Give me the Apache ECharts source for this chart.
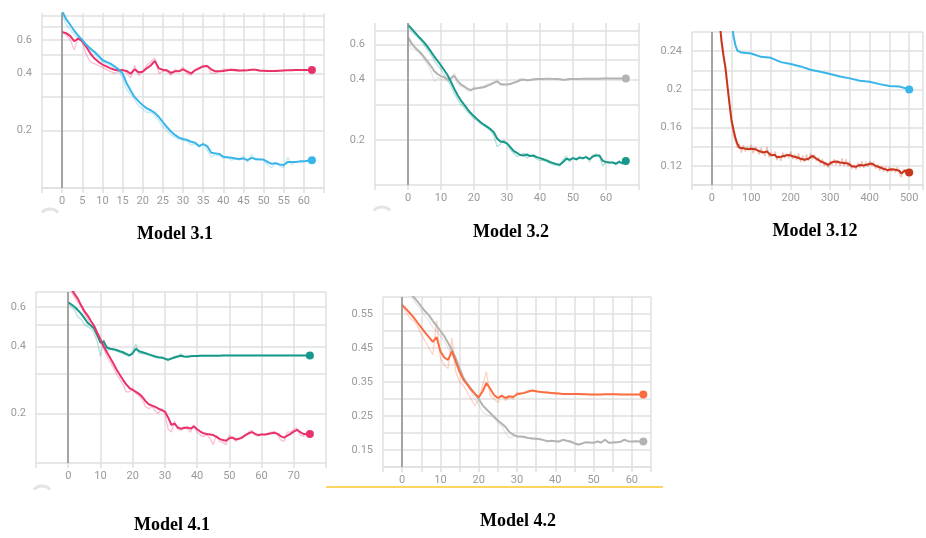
<!DOCTYPE html>
<html><head><meta charset="utf-8">
<script src="https://cdn.jsdelivr.net/npm/echarts@6/dist/echarts.min.js"></script>
<style>html,body{margin:0;padding:0;background:#fff}#c{width:926px;height:538px}</style>
</head><body><div id="c"></div>
<script>
// ---------- Model 3.1 (steps 0..62) ----------
const m31PinkSmooth = [0.66,0.65,0.63,0.59,0.61,0.59,0.55,0.51,0.48,0.46,0.445,0.435,0.425,0.418,0.415,0.416,0.412,0.398,0.42,0.405,0.408,0.425,0.44,0.465,0.425,0.418,0.415,0.402,0.41,0.41,0.42,0.41,0.40,0.415,0.425,0.435,0.437,0.42,0.41,0.41,0.412,0.415,0.418,0.416,0.414,0.414,0.415,0.418,0.418,0.414,0.413,0.412,0.411,0.412,0.413,0.414,0.415,0.415,0.416,0.416,0.417,0.417,0.417];
const m31PinkRaw = [0.66,0.64,0.60,0.53,0.62,0.58,0.50,0.46,0.45,0.44,0.43,0.42,0.41,0.40,0.41,0.42,0.40,0.38,0.44,0.39,0.41,0.44,0.46,0.48,0.40,0.41,0.41,0.39,0.42,0.41,0.43,0.40,0.39,0.42,0.43,0.44,0.44,0.40,0.40,0.41,0.42,0.42,0.42,0.41,0.41,0.42,0.415,0.42,0.42,0.41,0.41,0.41,0.41,0.415,0.415,0.415,0.415,0.415,0.417,0.417,0.417,0.417,0.417];
const m31BlueSmooth = [0.85,0.77,0.72,0.67,0.63,0.60,0.565,0.54,0.52,0.495,0.47,0.46,0.45,0.435,0.42,0.40,0.355,0.325,0.30,0.285,0.272,0.262,0.256,0.248,0.236,0.222,0.209,0.198,0.19,0.184,0.181,0.179,0.175,0.173,0.166,0.17,0.166,0.153,0.152,0.151,0.146,0.145,0.144,0.143,0.142,0.143,0.14,0.144,0.142,0.141,0.141,0.137,0.134,0.135,0.133,0.132,0.137,0.137,0.137,0.138,0.138,0.139,0.140];
const m31BlueRaw = [0.82,0.72,0.68,0.64,0.61,0.59,0.55,0.53,0.51,0.48,0.46,0.45,0.44,0.42,0.41,0.38,0.33,0.31,0.29,0.27,0.26,0.25,0.25,0.24,0.225,0.21,0.2,0.19,0.185,0.18,0.178,0.176,0.168,0.17,0.163,0.172,0.158,0.145,0.15,0.148,0.143,0.145,0.14,0.142,0.14,0.147,0.136,0.15,0.14,0.142,0.14,0.132,0.128,0.136,0.13,0.128,0.145,0.132,0.138,0.136,0.138,0.14,0.14];

// ---------- Model 3.2 (steps 0..66) ----------
const m32TealSmooth = [0.75,0.72,0.69,0.66,0.635,0.61,0.58,0.55,0.52,0.495,0.47,0.445,0.42,0.39,0.36,0.335,0.315,0.30,0.285,0.272,0.262,0.253,0.245,0.238,0.232,0.226,0.218,0.203,0.196,0.195,0.192,0.184,0.176,0.172,0.168,0.167,0.169,0.166,0.167,0.164,0.162,0.16,0.158,0.155,0.153,0.151,0.15,0.155,0.161,0.159,0.162,0.16,0.163,0.162,0.164,0.16,0.165,0.167,0.167,0.157,0.155,0.154,0.154,0.152,0.155,0.153,0.157];
const m32TealRaw = [0.75,0.70,0.67,0.65,0.62,0.59,0.56,0.53,0.50,0.47,0.45,0.42,0.40,0.37,0.34,0.32,0.30,0.29,0.275,0.265,0.255,0.25,0.24,0.235,0.23,0.222,0.21,0.185,0.19,0.2,0.19,0.178,0.172,0.165,0.168,0.172,0.162,0.168,0.165,0.16,0.158,0.158,0.155,0.153,0.15,0.15,0.148,0.16,0.166,0.155,0.164,0.158,0.166,0.16,0.166,0.155,0.168,0.17,0.165,0.148,0.155,0.153,0.155,0.15,0.158,0.15,0.158];
const m32GraySmooth = [0.65,0.61,0.58,0.56,0.54,0.515,0.49,0.465,0.44,0.425,0.416,0.41,0.40,0.405,0.418,0.395,0.378,0.37,0.36,0.354,0.36,0.362,0.364,0.366,0.372,0.378,0.385,0.392,0.38,0.378,0.378,0.38,0.385,0.39,0.397,0.40,0.397,0.398,0.40,0.402,0.403,0.403,0.404,0.404,0.403,0.403,0.401,0.399,0.40,0.402,0.403,0.403,0.403,0.404,0.404,0.404,0.404,0.404,0.404,0.405,0.405,0.405,0.405,0.405,0.405,0.405,0.405];
const m32GrayRaw = [0.64,0.57,0.56,0.55,0.53,0.50,0.47,0.44,0.39,0.41,0.40,0.40,0.39,0.41,0.43,0.38,0.37,0.365,0.35,0.35,0.37,0.36,0.37,0.37,0.38,0.38,0.39,0.40,0.375,0.375,0.38,0.38,0.39,0.39,0.405,0.40,0.395,0.40,0.405,0.404,0.404,0.404,0.403,0.403,0.402,0.403,0.40,0.398,0.40,0.402,0.403,0.403,0.404,0.404,0.404,0.404,0.404,0.404,0.404,0.405,0.405,0.405,0.405,0.405,0.405,0.405,0.405];

// ---------- Model 3.12 ----------
const m312RedSteps = [0,5,10,15,20,25,30,35,40,45,50,55,60,65,70,75,80,85,90,95,100,105,110,115,120,125,130,135,140,145,150,155,160,165,170,175,180,185,190,195,200,205,210,215,220,225,230,235,240,245,250,255,260,265,270,275,280,285,290,295,300,305,310,315,320,325,330,335,340,345,350,355,360,365,370,375,380,385,390,395,400,405,410,415,420,425,430,435,440,445,450,455,460,465,470,475,480,485,490,495,500];
const m312RedSmooth = [0.52,0.44,0.37,0.31,0.27,0.25,0.235,0.222,0.203,0.185,0.168,0.158,0.149,0.143,0.139,0.137,0.1385,0.137,0.1375,0.139,0.138,0.1365,0.1375,0.136,0.1355,0.1365,0.134,0.1335,0.135,0.133,0.131,0.133,0.1315,0.129,0.128,0.1295,0.131,0.1305,0.129,0.1315,0.132,0.13,0.1285,0.129,0.1295,0.1275,0.128,0.1265,0.1285,0.1275,0.1295,0.1305,0.129,0.1275,0.1265,0.125,0.1245,0.123,0.1215,0.121,0.1225,0.124,0.1235,0.1245,0.1225,0.1235,0.1245,0.123,0.1245,0.1225,0.1215,0.1195,0.1185,0.119,0.1205,0.121,0.122,0.1205,0.121,0.1215,0.122,0.1225,0.121,0.12,0.119,0.1185,0.1175,0.117,0.1165,0.1155,0.116,0.1165,0.1155,0.116,0.1165,0.115,0.112,0.1135,0.1155,0.1125,0.113];
const m312RedRaw = [0.53,0.45,0.37,0.30,0.27,0.245,0.232,0.218,0.2,0.182,0.165,0.152,0.146,0.139,0.143,0.134,0.142,0.135,0.14,0.136,0.142,0.133,0.14,0.138,0.132,0.139,0.137,0.13,0.14,0.129,0.134,0.13,0.135,0.126,0.131,0.125,0.134,0.128,0.133,0.128,0.135,0.127,0.132,0.126,0.133,0.124,0.131,0.124,0.132,0.125,0.133,0.127,0.132,0.125,0.129,0.122,0.127,0.12,0.124,0.118,0.125,0.121,0.127,0.121,0.126,0.12,0.128,0.12,0.127,0.119,0.124,0.117,0.121,0.116,0.123,0.118,0.125,0.118,0.124,0.119,0.125,0.12,0.124,0.117,0.122,0.115,0.12,0.114,0.119,0.113,0.119,0.114,0.118,0.113,0.119,0.112,0.108,0.116,0.112,0.115,0.112];
const m312BlueSteps = [0,20,40,50,55,60,65,75,100,125,150,175,200,225,250,275,300,325,350,375,400,425,450,475,500];
const m312BlueSmooth = [0.60,0.42,0.31,0.272,0.256,0.246,0.2405,0.2385,0.2375,0.234,0.233,0.2285,0.2265,0.224,0.2205,0.2185,0.216,0.2135,0.2115,0.209,0.208,0.2055,0.2035,0.203,0.200];

// ---------- Model 4.1 (steps 0..75) ----------
const m41TealSmooth = [0.63,0.615,0.60,0.58,0.56,0.535,0.51,0.495,0.48,0.45,0.415,0.42,0.395,0.39,0.388,0.385,0.38,0.376,0.37,0.364,0.372,0.39,0.38,0.376,0.372,0.368,0.364,0.36,0.357,0.356,0.352,0.348,0.352,0.356,0.36,0.363,0.36,0.359,0.361,0.362,0.362,0.363,0.363,0.363,0.363,0.363,0.363,0.363,0.364,0.364,0.364,0.364,0.364,0.364,0.364,0.364,0.364,0.364,0.364,0.364,0.364,0.364,0.364,0.364,0.364,0.364,0.364,0.364,0.364,0.364,0.364,0.364,0.364,0.364,0.364,0.364];
const m41TealRaw = [0.62,0.60,0.58,0.54,0.53,0.50,0.49,0.48,0.46,0.42,0.36,0.43,0.38,0.39,0.385,0.38,0.375,0.37,0.365,0.36,0.38,0.41,0.37,0.372,0.37,0.365,0.36,0.356,0.355,0.355,0.35,0.345,0.355,0.36,0.362,0.37,0.358,0.36,0.362,0.362,0.363,0.364,0.364,0.364,0.364,0.364,0.364,0.364,0.364,0.364,0.364,0.364,0.364,0.364,0.364,0.364,0.364,0.364,0.364,0.364,0.364,0.364,0.364,0.364,0.364,0.364,0.364,0.364,0.364,0.364,0.364,0.364,0.364,0.364,0.364,0.364];
const m41PinkSmooth = [0.76,0.72,0.685,0.652,0.61,0.575,0.55,0.52,0.494,0.46,0.43,0.40,0.376,0.355,0.335,0.315,0.298,0.283,0.27,0.26,0.255,0.25,0.245,0.237,0.227,0.22,0.217,0.214,0.21,0.207,0.204,0.192,0.178,0.18,0.173,0.171,0.172,0.173,0.171,0.175,0.17,0.166,0.163,0.162,0.161,0.16,0.157,0.154,0.152,0.151,0.155,0.156,0.153,0.154,0.156,0.16,0.163,0.165,0.162,0.16,0.161,0.161,0.162,0.163,0.164,0.162,0.158,0.156,0.159,0.162,0.166,0.169,0.165,0.162,0.162,0.162];
const m41PinkRaw = [0.74,0.70,0.66,0.63,0.60,0.56,0.53,0.50,0.48,0.44,0.42,0.39,0.36,0.34,0.32,0.30,0.285,0.27,0.25,0.25,0.26,0.245,0.24,0.23,0.215,0.21,0.215,0.205,0.2,0.21,0.2,0.17,0.165,0.185,0.17,0.168,0.175,0.17,0.165,0.178,0.165,0.16,0.158,0.16,0.155,0.145,0.16,0.15,0.148,0.145,0.16,0.155,0.15,0.155,0.158,0.16,0.165,0.168,0.16,0.158,0.162,0.16,0.163,0.165,0.166,0.16,0.152,0.15,0.165,0.165,0.17,0.172,0.16,0.158,0.163,0.162];

// ---------- Model 4.2 (steps 0..63) ----------
const m42OrangeSmooth = [0.577,0.565,0.553,0.54,0.525,0.51,0.495,0.482,0.468,0.482,0.44,0.422,0.415,0.44,0.41,0.38,0.357,0.343,0.328,0.315,0.305,0.322,0.347,0.33,0.312,0.303,0.31,0.303,0.308,0.306,0.314,0.316,0.318,0.322,0.325,0.323,0.321,0.32,0.319,0.318,0.317,0.316,0.315,0.315,0.315,0.315,0.315,0.314,0.314,0.313,0.313,0.313,0.313,0.314,0.314,0.314,0.314,0.313,0.313,0.313,0.313,0.313,0.313,0.313];
const m42OrangeRaw = [0.575,0.555,0.54,0.53,0.515,0.49,0.47,0.45,0.43,0.53,0.42,0.40,0.39,0.48,0.38,0.35,0.34,0.32,0.30,0.28,0.30,0.34,0.38,0.31,0.3,0.29,0.31,0.295,0.305,0.3,0.32,0.315,0.32,0.323,0.326,0.322,0.32,0.319,0.318,0.317,0.316,0.315,0.315,0.315,0.315,0.315,0.315,0.314,0.314,0.313,0.313,0.313,0.313,0.314,0.314,0.314,0.314,0.313,0.313,0.313,0.313,0.313,0.313,0.313];
const m42GraySmooth = [0.66,0.64,0.62,0.60,0.587,0.572,0.558,0.546,0.53,0.515,0.5,0.485,0.465,0.445,0.42,0.39,0.362,0.345,0.33,0.315,0.3,0.282,0.27,0.259,0.248,0.237,0.228,0.218,0.203,0.195,0.19,0.19,0.188,0.185,0.184,0.183,0.182,0.179,0.176,0.177,0.176,0.175,0.18,0.177,0.175,0.17,0.166,0.169,0.173,0.172,0.171,0.175,0.172,0.18,0.171,0.172,0.173,0.174,0.18,0.176,0.175,0.176,0.175,0.175];
const m42GrayRaw = [0.66,0.63,0.61,0.59,0.575,0.56,0.545,0.53,0.51,0.50,0.485,0.47,0.45,0.43,0.41,0.38,0.355,0.34,0.32,0.30,0.285,0.26,0.255,0.25,0.245,0.23,0.22,0.2,0.185,0.19,0.19,0.188,0.186,0.184,0.183,0.182,0.18,0.178,0.175,0.176,0.175,0.174,0.18,0.176,0.172,0.168,0.164,0.168,0.172,0.171,0.17,0.176,0.17,0.182,0.17,0.171,0.172,0.173,0.182,0.175,0.174,0.176,0.175,0.175];

// ---------- tick values ----------
const logLabelTicks = [0.2, 0.4, 0.6];
const logGridTicks = [0.1, 0.2, 0.3, 0.4, 0.5, 0.6, 0.7, 0.8];
const captions = ['Model 3.1', 'Model 3.2', 'Model 3.12', 'Model 4.1', 'Model 4.2'];

const PINK = '#e9326a', BLUE = '#38b6ea', TEAL = '#16998a', GRAY = '#b3b3b3', RED = '#c9351a', ORANGE = '#fb6d40';
const GRID_C = '#e0e0e0', LABEL_C = '#9a9a9a';

function pairs(vals, steps) { return vals.map((v, i) => [steps ? steps[i] : i, v]); }

const grids = [
  { left: 42, top: 13, width: 282, height: 175 },
  { left: 375, top: 23, width: 264, height: 162 },
  { left: 692, top: 32, width: 236, height: 153 },
  { left: 36, top: 292, width: 290, height: 171 },
  { left: 383, top: 297, width: 268, height: 170 }
];

function xAx(gi, min, max, interval, labelFn) {
  return {
    type: 'value', gridIndex: gi, min, max, interval,
    axisLine: { show: true, lineStyle: { color: GRID_C, width: 1.5 } },
    axisTick: { show: true, length: 5, lineStyle: { color: GRID_C, width: 1.5 } },
    splitLine: { show: true, lineStyle: { color: GRID_C, width: 1.5 } },
    axisLabel: { color: LABEL_C, fontSize: 11, fontFamily: 'Roboto', margin: 8, formatter: labelFn }
  };
}
function yLog(gi, min, max) {
  return {
    type: 'log', logBase: 10, gridIndex: gi, min, max,
    axisLine: { show: false },
    axisTick: { show: false, customValues: logGridTicks.filter(v => v >= min && v <= max) },
    splitLine: { show: true, lineStyle: { color: GRID_C, width: 1.5 } },
    axisLabel: { color: LABEL_C, fontSize: 11, fontFamily: 'Roboto', margin: 10,
      customValues: logLabelTicks, formatter: v => String(+(+v).toFixed(2)) }
  };
}
function yLin(gi, min, max, interval, labelFn) {
  return {
    type: 'value', gridIndex: gi, min, max, interval,
    axisLine: { show: false }, axisTick: { show: false },
    splitLine: { show: true, lineStyle: { color: GRID_C, width: 1.5 } },
    axisLabel: { color: LABEL_C, fontSize: 11, fontFamily: 'Roboto', margin: 10, formatter: labelFn }
  };
}

const xAxes = [
  xAx(0, -5, 65, 5, v => (v >= 0 && v <= 60) ? String(v) : ''),
  xAx(1, -10, 70, 10, v => (v >= 0 && v <= 60) ? String(v) : ''),
  xAx(2, -50, 535, 50, v => (v >= 0 && v <= 500 && Math.round(v) % 100 === 0) ? String(Math.round(v)) : ''),
  xAx(3, -10, 80, 10, v => (v >= 0 && v <= 70) ? String(v) : ''),
  xAx(4, -5, 65, 5, v => (v >= 0 && v <= 60 && Math.round(v) % 10 === 0) ? String(v) : '')
];
const yAxes = [
  yLog(0, 0.1, 0.83),
  yLog(1, 0.119, 0.766),
  yLin(2, 0.1, 0.26, 0.02, v => { const r = Math.round(v * 100); return (r % 4 === 0 && r >= 12 && r <= 24) ? String(r / 100) : ''; }),
  yLog(3, 0.12, 0.70),
  yLin(4, 0.1, 0.6, 0.05, v => { const r = Math.round(v * 100); return (r % 10 === 5) ? (r / 100).toFixed(2) : ''; })
];

function rawLine(gi, vals, color, steps) {
  return { type: 'line', xAxisIndex: gi, yAxisIndex: gi, data: pairs(vals, steps), showSymbol: false,
    lineStyle: { color, width: 1.3, opacity: 0.3 }, itemStyle: { color }, silent: true, z: 2, animation: false };
}
function smoothLine(gi, vals, color, steps, zeroLine) {
  const last = vals.length - 1;
  const s = { type: 'line', xAxisIndex: gi, yAxisIndex: gi, data: pairs(vals, steps),
    symbol: 'circle', showSymbol: true, showAllSymbol: true,
    symbolSize: (val, p) => p.dataIndex === last ? 8 : 0,
    lineStyle: { color, width: 2 }, itemStyle: { color }, silent: true, z: 3, animation: false };
  if (zeroLine) {
    s.markLine = { silent: true, symbol: 'none', animation: false, label: { show: false },
      lineStyle: { color: '#8e8e8e', width: 1.5, type: 'solid' }, data: [{ xAxis: 0 }] };
  }
  return s;
}

const series = [
  rawLine(0, m31PinkRaw, PINK), rawLine(0, m31BlueRaw, BLUE),
  smoothLine(0, m31PinkSmooth, PINK, null, true), smoothLine(0, m31BlueSmooth, BLUE),
  rawLine(1, m32GrayRaw, GRAY), rawLine(1, m32TealRaw, TEAL),
  smoothLine(1, m32GraySmooth, GRAY, null, true), smoothLine(1, m32TealSmooth, TEAL),
  rawLine(2, m312RedRaw, RED, m312RedSteps),
  smoothLine(2, m312BlueSmooth, BLUE, m312BlueSteps, true), smoothLine(2, m312RedSmooth, RED, m312RedSteps),
  rawLine(3, m41TealRaw, TEAL), rawLine(3, m41PinkRaw, PINK),
  smoothLine(3, m41TealSmooth, TEAL, null, true), smoothLine(3, m41PinkSmooth, PINK),
  rawLine(4, m42GrayRaw, GRAY), rawLine(4, m42OrangeRaw, ORANGE),
  smoothLine(4, m42GraySmooth, GRAY, null, true), smoothLine(4, m42OrangeSmooth, ORANGE)
];

const capPos = [[175, 234], [511, 232], [815, 231], [172, 525], [518, 521]];
const graphic = captions.map((t, i) => ({
  type: 'text', x: capPos[i][0], y: capPos[i][1],
  style: { text: t, fill: '#000', font: 'bold 18px "Liberation Serif", "Times New Roman", serif', textAlign: 'center', textVerticalAlign: 'middle' }
}));
graphic.push({ type: 'line', shape: { x1: 326, y1: 487, x2: 663, y2: 487 }, style: { stroke: '#fcd660', lineWidth: 2 } });
// faint TensorBoard toolbar buttons peeking under the axes
[[50, 220], [382, 218], [42, 497]].forEach(([cx, cy]) => {
  graphic.push({ type: 'arc', shape: { cx, cy, r: 11, startAngle: -2.4, endAngle: -0.74 },
    style: { stroke: '#e4e4e4', lineWidth: 3, fill: null } });
});

const chart = echarts.init(document.getElementById('c'), null, { renderer: 'canvas' });
chart.setOption({ animation: false, backgroundColor: '#fff', grid: grids, xAxis: xAxes, yAxis: yAxes, series, graphic });
</script></body></html>
